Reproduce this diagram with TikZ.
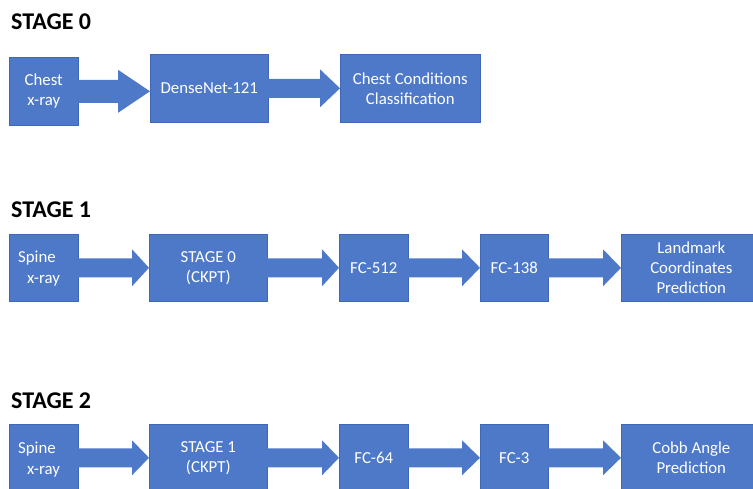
\documentclass[tikz,border=0pt]{standalone}
\usepackage{fontspec}
\setmainfont{Carlito}
\usetikzlibrary{calc}
\definecolor{boxblue}{HTML}{4E79C8}
\definecolor{boxedge}{HTML}{3F67B5}
\tikzset{
  blk/.style={draw=boxedge, line width=0.6pt, fill=boxblue, anchor=north west, inner sep=0pt,
    minimum height=67pt, text=white, align=center,
    font=\fontsize{16.8}{20}\selectfont},
  ttl/.style={anchor=base west, inner sep=0pt, font=\fontsize{24}{28}\selectfont\bfseries},
  lbl/.style={anchor=base west, inner sep=0pt, text=white, font=\fontsize{16.8}{20}\selectfont}
}
% \barrow{from}{to}{head length}{shaft half}{head half}
\newcommand{\barrow}[5]{%
  \coordinate (tp) at (#2.west |- #1.east);
  \fill[boxblue] ($(#1.east)+(-0.5,#4)$) -- ($(tp)+(-#3,#4)$) -- ($(tp)+(-#3,#5)$) -- (tp)
    -- ($(tp)+(-#3,-#5)$) -- ($(tp)+(-#3,-#4)$) -- ($(#1.east)+(-0.5,-#4)$) -- cycle;}
\begin{document}
\begin{tikzpicture}[x=1pt,y=-1pt]
\useasboundingbox (0,0) rectangle (753,489);
\clip (0,0) rectangle (753,489);
\fill[white] (0,0) rectangle (753,489);

% STAGE 0
\node[ttl] (t0) at (11,30) {STAGE 0};
\node[blk, minimum width=69pt, minimum height=68pt] (c0) at (9,57) {Chest\\x-ray};
\node[blk, minimum width=118pt, minimum height=68pt] (d0) at (150,54) {DenseNet-121};
\node[blk, minimum width=140pt, minimum height=68pt] (r0) at (340,54) {Chest Conditions\\Classification};
\barrow{c0}{d0}{32}{11.5}{21.5}
\barrow{d0}{r0}{20}{9.5}{19}

% STAGE 1
\node[ttl] (t1) at (11,218) {STAGE 1};
\node[blk, minimum width=69pt] (s1) at (9,234) {};
\node[lbl] (s1a) at (18,263) {Spine};
\node[lbl] (s1b) at (27,284) {x-ray};
\node[blk, minimum width=118pt] (k1) at (149,234) {STAGE 0\\(CKPT)};
\node[blk, minimum width=69pt] (f1a) at (339,234) {FC-512};
\node[blk, minimum width=68pt] (f1b) at (480,234) {FC-138};
\node[blk, minimum width=140pt] (l1) at (621,234) {Landmark\\Coordinates\\Prediction};
\barrow{s1}{k1}{17}{9.5}{18.5}
\barrow{k1}{f1a}{17}{9.5}{18.5}
\barrow{f1a}{f1b}{18}{9.5}{18.5}
\barrow{f1b}{l1}{18}{9.5}{18.5}

% STAGE 2
\node[ttl] (t2) at (11,408) {STAGE 2};
\node[blk, minimum width=69pt] (s2) at (9,424) {};
\node[lbl] (s2a) at (18,453) {Spine};
\node[lbl] (s2b) at (27,474) {x-ray};
\node[blk, minimum width=118pt] (k2) at (149,424) {STAGE 1\\(CKPT)};
\node[blk, minimum width=69pt] (f2a) at (339,424) {FC-64};
\node[blk, minimum width=68pt] (f2b) at (480,424) {FC-3};
\node[blk, minimum width=140pt] (l2) at (621,424) {Cobb Angle\\Prediction};
\barrow{s2}{k2}{17}{9.5}{17.5}
\barrow{k2}{f2a}{17}{9.5}{17.5}
\barrow{f2a}{f2b}{18}{9.5}{17.5}
\barrow{f2b}{l2}{18}{9.5}{17.5}
\end{tikzpicture}
\end{document}
